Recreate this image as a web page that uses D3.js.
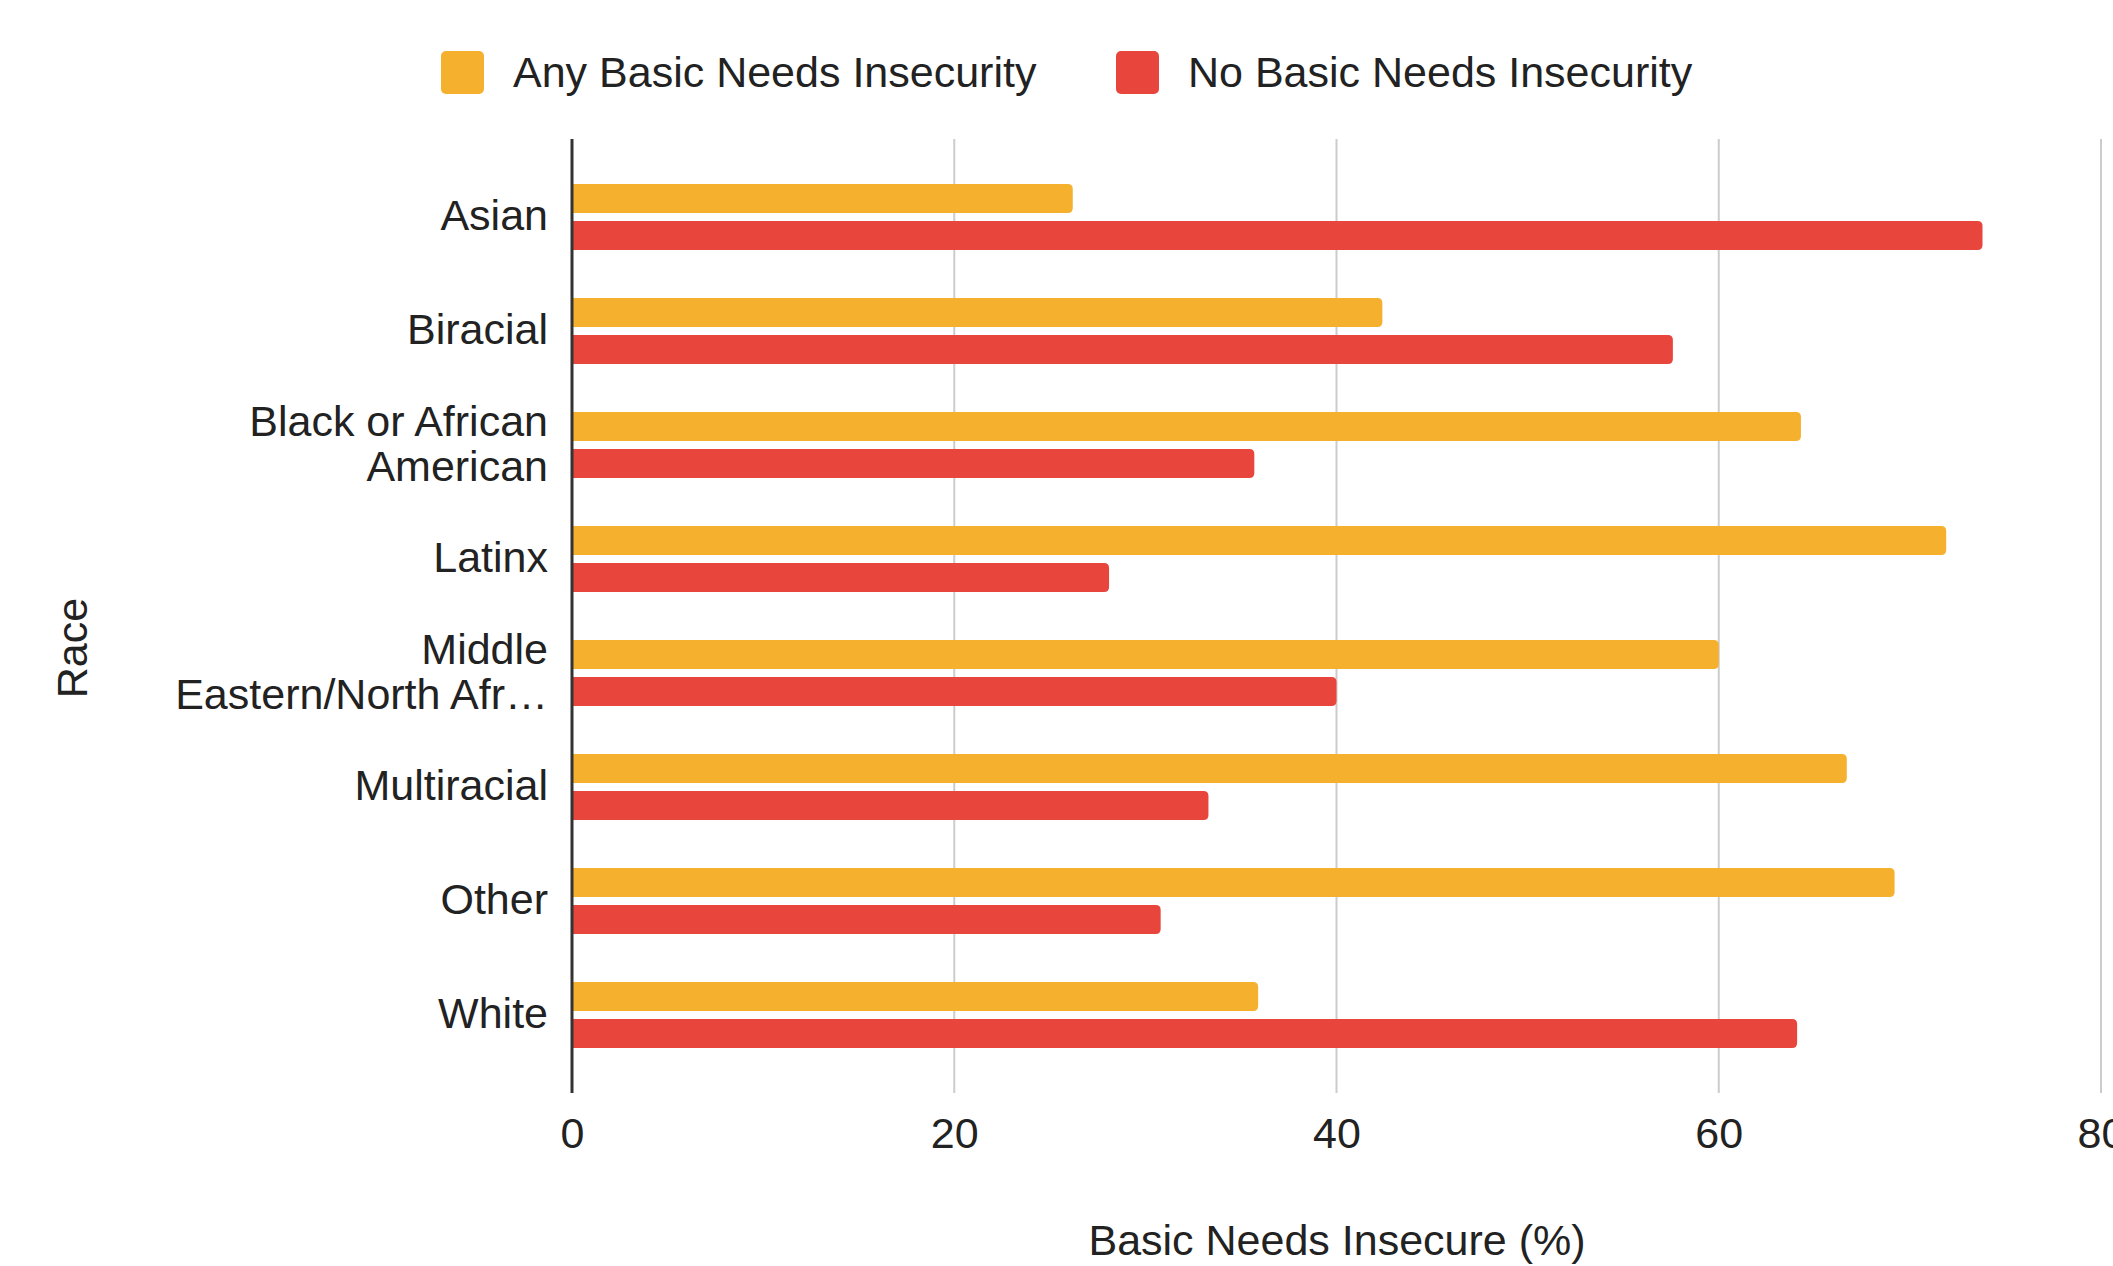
<!DOCTYPE html>
<html>
<head>
<meta charset="utf-8">
<script src="https://cdn.jsdelivr.net/npm/d3@7"></script>
<style>
  html, body { margin: 0; padding: 0; background: #fff; }
  svg { display: block; }
  text { font-family: "Liberation Sans", Arial, Helvetica, sans-serif; fill: #222; }
</style>
</head>
<body>
<svg id="chart" width="2113" height="1266"></svg>
<script>
// ---- Data ----
const categories = ["Asian", "Biracial", "Black or African American", "Latinx",
  "Middle Eastern/North African", "Multiracial", "Other", "White"];
const categoryLabels = [["Asian"], ["Biracial"], ["Black or African", "American"], ["Latinx"],
  ["Middle", "Eastern/North Afr…"], ["Multiracial"], ["Other"], ["White"]];
const seriesNames = ["Any Basic Needs Insecurity", "No Basic Needs Insecurity"];
const anyInsecurity = [26.2, 42.4, 64.3, 71.9, 60.0, 66.7, 69.2, 35.9];
const noInsecurity  = [73.8, 57.6, 35.7, 28.1, 40.0, 33.3, 30.8, 64.1];
const xTicks = [0, 20, 40, 60, 80];
const xTitle = "Basic Needs Insecure (%)";
const yTitle = "Race";
const colors = ["#F5B02E", "#E8453C"];

// ---- Layout ----
const svg = d3.select("#chart");
const plot = { left: 572, right: 2101, top: 139, bottom: 1093 };
const fontSize = 43;

const x = d3.scaleLinear().domain([0, 80]).range([plot.left, plot.right]);
const y = d3.scaleBand().domain(categories).range([plot.top, plot.bottom])
  .paddingInner(0).paddingOuter(0.184);
const ys = d3.scaleBand().domain(seriesNames).range([-33, 33]).paddingInner(0.216);
const color = d3.scaleOrdinal().domain(seriesNames).range(colors);

const rows = categories.map((c, i) => ({ cat: c, values: [anyInsecurity[i], noInsecurity[i]] }));

// gridlines
svg.append("g").selectAll("line").data(xTicks.filter(t => t !== 0)).join("line")
  .attr("x1", d => x(d)).attr("x2", d => x(d))
  .attr("y1", plot.top).attr("y2", plot.bottom)
  .attr("stroke", "#cccccc").attr("stroke-width", 2);

// bars (right corners rounded)
function barPath(x0, x1, y0, h, r) {
  r = Math.min(r, (x1 - x0) / 2, h / 2);
  return `M${x0},${y0}H${x1 - r}Q${x1},${y0} ${x1},${y0 + r}V${y0 + h - r}Q${x1},${y0 + h} ${x1 - r},${y0 + h}H${x0}Z`;
}
const groups = svg.append("g").selectAll("g").data(rows).join("g")
  .attr("transform", d => `translate(0,${y(d.cat) + y.bandwidth() / 2})`);
groups.selectAll("path").data(d => d.values.map((v, j) => ({ s: seriesNames[j], v }))).join("path")
  .attr("d", d => barPath(x(0), x(d.v), ys(d.s), ys.bandwidth(), 5))
  .attr("fill", d => color(d.s));

// zero axis line
svg.append("line")
  .attr("x1", x(0)).attr("x2", x(0)).attr("y1", plot.top).attr("y2", plot.bottom)
  .attr("stroke", "#333").attr("stroke-width", 3);

// x axis labels
const xAxis = svg.append("g").attr("transform", `translate(0,${plot.bottom})`)
  .call(d3.axisBottom(x).tickValues(xTicks).tickSize(0).tickPadding(24).tickFormat(d3.format("d")));
xAxis.select(".domain").remove();
xAxis.selectAll("text").attr("font-size", fontSize).attr("fill", "#222")
  .attr("font-family", '"Liberation Sans", Arial, sans-serif');

// y axis labels (multi-line)
const yAxis = svg.append("g").attr("transform", `translate(${plot.left},0)`)
  .call(d3.axisLeft(y).tickSize(0).tickPadding(24));
yAxis.select(".domain").remove();
yAxis.selectAll(".tick text").each(function(d, i) {
  const t = d3.select(this);
  const lines = categoryLabels[categories.indexOf(d)];
  t.text(null).attr("font-size", fontSize).attr("fill", "#222")
    .attr("font-family", '"Liberation Sans", Arial, sans-serif');
  const lh = 45;
  const start = -(lines.length - 1) * lh / 2 - 2;
  lines.forEach((ln, k) => {
    t.append("tspan").attr("x", -24).attr("y", start + k * lh).attr("dy", "0.35em").text(ln);
  });
});

// axis titles
svg.append("text").attr("x", 1337).attr("y", 1240).attr("dy", "0.35em")
  .attr("text-anchor", "middle").attr("font-size", fontSize).text(xTitle);
svg.append("text").attr("transform", "translate(72,648) rotate(-90)").attr("dy", "0.35em")
  .attr("text-anchor", "middle").attr("font-size", fontSize).text(yTitle);

// legend
const legendItems = [{ name: seriesNames[0], x: 441 }, { name: seriesNames[1], x: 1116 }];
const lg = svg.append("g").selectAll("g").data(legendItems).join("g")
  .attr("transform", d => `translate(${d.x},51)`);
lg.append("rect").attr("width", 43).attr("height", 43).attr("rx", 5)
  .attr("fill", d => color(d.name));
lg.append("text").attr("x", 72).attr("y", 21).attr("dy", "0.35em")
  .attr("font-size", fontSize).text(d => d.name);
</script>
</body>
</html>
